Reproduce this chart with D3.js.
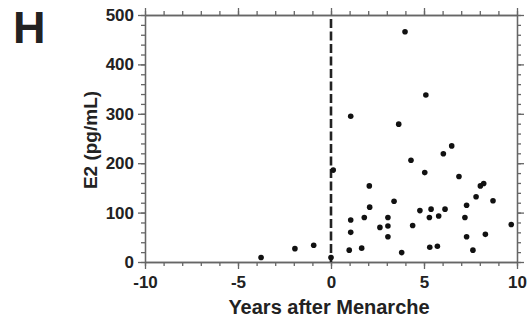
<!DOCTYPE html>
<html><head><meta charset="utf-8">
<script src="https://cdn.jsdelivr.net/npm/d3@7"></script>
<style>body{margin:0;background:#fff}svg{display:block}text{font-family:"Liberation Sans",Arial,sans-serif;font-weight:bold;fill:#222}</style>
</head><body><svg id="c" width="531" height="329"></svg>
<script>
const years = [-3.76,-1.94,-0.93,0,0.12,0.98,1.06,1.06,1.06,1.65,1.79,2.06,2.08,2.63,3.06,3.06,3.06,3.39,3.64,3.80,3.98,4.30,4.39,4.78,5.04,5.1,5.29,5.38,5.31,5.72,5.79,6.04,6.13,6.49,6.88,7.2,7.29,7.29,7.63,7.80,8.03,8.21,8.30,8.71,9.69];
const e2 =    [9,27,34,9,186,24,295,85,60,28,90,154,111,70,90,73,51,123,279,19,466,206,74,104,181,338,90,107,30,32,93,219,107,235,173,90,115,51,24,132,154,159,56,124,76];
const xTicks = [-10,-5,0,5,10];
const yTicks = [0,100,200,300,400,500];
const panelLabel = "H";
const xTitle = "Years after Menarche";
const yTitle = "E2 (pg/mL)";

const svg = d3.select("#c");
const m = {l:145, r:517, t:15, b:262};
const x = d3.scaleLinear().domain([-10,10]).range([m.l,m.r]);
const y = d3.scaleLinear().domain([0,500]).range([m.b,m.t]);
const axCol = "#666";
const fmt = d => String(d);

function styleAxis(g){
  g.selectAll("path,line").attr("stroke",axCol).attr("stroke-width",1.3);
  return g;
}
function styleText(g){
  g.selectAll("text").attr("font-size",17).style("font-family","Liberation Sans, Arial").style("font-weight","bold").attr("fill","#222");
}
const xMinor = d3.range(-10,11,1), yMinor = d3.range(0,501,20);

styleAxis(svg.append("g").attr("transform",`translate(0,${m.b})`)
  .call(d3.axisBottom(x).tickValues(xMinor).tickSize(4).tickFormat("").tickSizeOuter(0)));
const bottomMaj = styleAxis(svg.append("g").attr("transform",`translate(0,${m.b})`)
  .call(d3.axisBottom(x).tickValues(xTicks).tickSize(7).tickPadding(7).tickFormat(fmt).tickSizeOuter(0)));
styleText(bottomMaj);

styleAxis(svg.append("g").attr("transform",`translate(0,${m.t})`)
  .call(d3.axisTop(x).tickValues(xMinor).tickSize(4).tickFormat("").tickSizeOuter(0)));
styleAxis(svg.append("g").attr("transform",`translate(0,${m.t})`)
  .call(d3.axisTop(x).tickValues(xTicks).tickSize(7).tickFormat("").tickSizeOuter(0)));

styleAxis(svg.append("g").attr("transform",`translate(${m.l},0)`)
  .call(d3.axisLeft(y).tickValues(yMinor).tickSize(4).tickFormat("").tickSizeOuter(0)));
const leftMaj = styleAxis(svg.append("g").attr("transform",`translate(${m.l},0)`)
  .call(d3.axisLeft(y).tickValues(yTicks).tickSize(7).tickPadding(4).tickFormat(fmt).tickSizeOuter(0)));
styleText(leftMaj);

styleAxis(svg.append("g").attr("transform",`translate(${m.r},0)`)
  .call(d3.axisRight(y).tickValues(yMinor).tickSize(4).tickFormat("").tickSizeOuter(0)));
styleAxis(svg.append("g").attr("transform",`translate(${m.r},0)`)
  .call(d3.axisRight(y).tickValues(yTicks).tickSize(7).tickFormat("").tickSizeOuter(0)));

svg.append("line").attr("x1",x(0)).attr("x2",x(0)).attr("y1",y(500)+4).attr("y2",y(0))
  .attr("stroke","#222").attr("stroke-width",2.6).attr("stroke-dasharray","9,3.5");

svg.append("g").selectAll("circle").data(years.map((v,i)=>[v,e2[i]])).join("circle")
  .attr("cx",d=>x(d[0])).attr("cy",d=>y(d[1])).attr("r",2.8).attr("fill","#111");

svg.append("text").attr("x",(m.l+m.r)/2-2).attr("y",314).attr("text-anchor","middle").attr("font-size",20).text(xTitle);
svg.append("text").attr("transform",`translate(97,140) rotate(-90)`).attr("text-anchor","middle").attr("font-size",19).text(yTitle);
svg.append("text").attr("x",13).attr("y",43).attr("font-size",45).text(panelLabel);
</script></body></html>
